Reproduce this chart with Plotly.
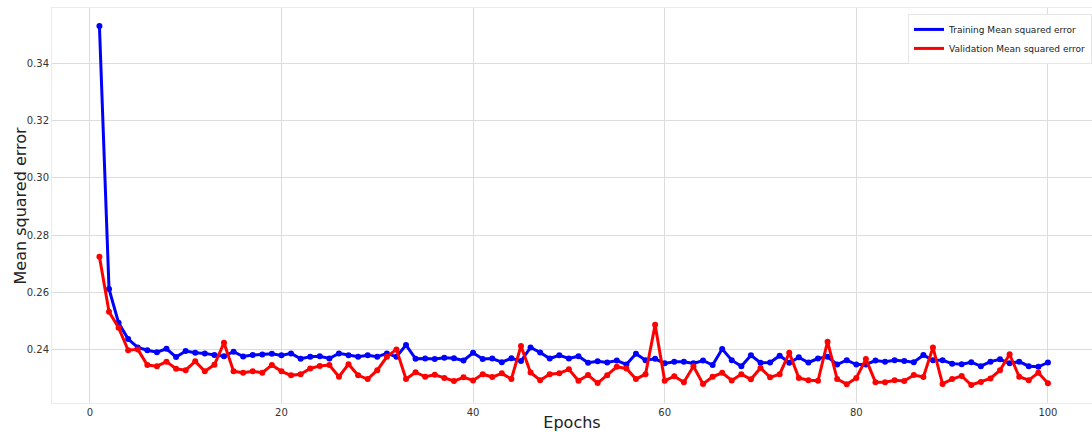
import plotly.graph_objects as go

epochs = list(range(1, 101))

train_mse = [
    0.3533, 0.2611, 0.2492, 0.2435, 0.2406, 0.2396, 0.2389, 0.2401, 0.2372, 0.2393,
    0.2387, 0.2385, 0.2379, 0.2375, 0.2391, 0.2374, 0.2379, 0.2381, 0.2384, 0.2378,
    0.2385, 0.2366, 0.2373, 0.2375, 0.2367, 0.2385, 0.2378, 0.2373, 0.2378, 0.2373,
    0.2385, 0.2373, 0.2414, 0.2366, 0.2367, 0.2365, 0.2370, 0.2368, 0.2360, 0.2387,
    0.2365, 0.2367, 0.2354, 0.2368, 0.2358, 0.2406, 0.2388, 0.2367, 0.2378, 0.2367,
    0.2375, 0.2352, 0.2357, 0.2353, 0.2360, 0.2346, 0.2384, 0.2361, 0.2366, 0.2350,
    0.2356, 0.2356, 0.2350, 0.2360, 0.2344, 0.2400, 0.2361, 0.2340, 0.2378, 0.2352,
    0.2353, 0.2377, 0.2352, 0.2371, 0.2353, 0.2367, 0.2373, 0.2346, 0.2361, 0.2346,
    0.2346, 0.2360, 0.2356, 0.2361, 0.2358, 0.2354, 0.2379, 0.2361, 0.2361, 0.2349,
    0.2347, 0.2354, 0.2340, 0.2356, 0.2364, 0.2350, 0.2356, 0.2340, 0.2338, 0.2353,
]

val_mse = [
    0.2724, 0.2531, 0.2475, 0.2396, 0.2399, 0.2344, 0.2340, 0.2356, 0.2331, 0.2326,
    0.2357, 0.2322, 0.2345, 0.2422, 0.2322, 0.2317, 0.2322, 0.2317, 0.2344, 0.2322,
    0.2308, 0.2312, 0.2332, 0.2341, 0.2344, 0.2303, 0.2347, 0.2308, 0.2295, 0.2326,
    0.2373, 0.2399, 0.2295, 0.2319, 0.2303, 0.2310, 0.2299, 0.2288, 0.2301, 0.2290,
    0.2312, 0.2302, 0.2315, 0.2295, 0.2411, 0.2318, 0.2291, 0.2312, 0.2315, 0.2329,
    0.2289, 0.2309, 0.2281, 0.2308, 0.2338, 0.2332, 0.2295, 0.2312, 0.2485, 0.2289,
    0.2305, 0.2284, 0.2340, 0.2278, 0.2303, 0.2317, 0.2290, 0.2312, 0.2294, 0.2334,
    0.2301, 0.2312, 0.2387, 0.2299, 0.2291, 0.2289, 0.2426, 0.2295, 0.2277, 0.2299,
    0.2365, 0.2284, 0.2284, 0.2291, 0.2288, 0.2309, 0.2302, 0.2406, 0.2278, 0.2295,
    0.2306, 0.2274, 0.2285, 0.2297, 0.2326, 0.2382, 0.2303, 0.2291, 0.2317, 0.2280,
]

series_names = ["Training Mean squared error", "Validation Mean squared error"]
series_colors = ["#0000ff", "#ff0000"]

x_ticks = [0, 20, 40, 60, 80, 100]
y_ticks = [0.24, 0.26, 0.28, 0.30, 0.32, 0.34]

fig = go.Figure()
for ys, name, color in zip([train_mse, val_mse], series_names, series_colors):
    fig.add_trace(go.Scatter(
        x=epochs, y=ys, mode="lines+markers", name=name, showlegend=False,
        line=dict(color=color, width=3), marker=dict(color=color, size=6),
    ))
# legend entries (lines only, as in the reference legend)
for name, color in zip(series_names, series_colors):
    fig.add_trace(go.Scatter(
        x=[None], y=[None], mode="lines", name=name,
        line=dict(color=color, width=3), showlegend=True,
    ))

axis_common = dict(
    showgrid=True, gridcolor="#dcdcdc", gridwidth=1,
    showline=True, linecolor="#ebebeb", linewidth=1, mirror=True,
    zeroline=False, ticks="", tickfont=dict(family="DejaVu Sans", size=10, color="#333333"),
)

fig.update_layout(
    width=1092, height=432,
    margin=dict(l=52, r=0, t=8, b=29),
    paper_bgcolor="white", plot_bgcolor="white",
    font=dict(family="DejaVu Sans", color="#333333"),
    xaxis=dict(
        range=[-3.95, 104.6], tickvals=x_ticks, ticktext=[str(v) for v in x_ticks],
        title=dict(text="Epochs", font=dict(size=16, color="#222222"), standoff=2),
        **axis_common,
    ),
    yaxis=dict(
        range=[0.2211, 0.3596], tickvals=y_ticks, ticktext=[f"{v:.2f}" for v in y_ticks],
        **axis_common,
    ),
    legend=dict(
        x=1.0, y=0.985, xanchor="right", yanchor="top",
        bgcolor="white", bordercolor="#e6e6e6", borderwidth=1,
        font=dict(family="DejaVu Sans", size=9, color="#222222"),
        itemwidth=30, tracegroupgap=0,
    ),
    showlegend=True,
    annotations=[dict(
        text="Mean squared error", textangle=-90, showarrow=False,
        xref="paper", yref="paper", x=0, y=0.5, xshift=-32,
        xanchor="center", yanchor="middle",
        font=dict(family="DejaVu Sans", size=16, color="#222222"),
    )],
)

fig.write_html("out.html")
